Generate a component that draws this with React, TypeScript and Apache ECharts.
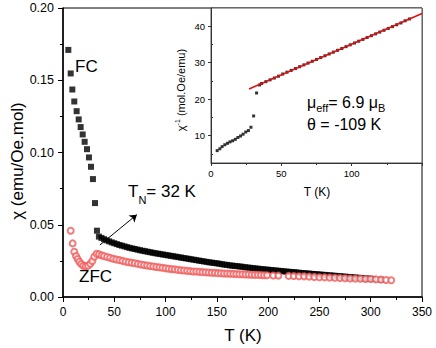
import React, { useEffect, useRef } from 'react';
import * as echarts from 'echarts';

const FONT = "'Liberation Sans', Arial, sans-serif";

// Main panel: FC (field cooled), chi in emu/Oe.mol vs T (K)
const fcLow: number[][] = [
  [5.2, 0.171], [7.5, 0.1547], [9.1, 0.1436], [11, 0.1353], [13.3, 0.1286], [15.3, 0.1229],
  [17.2, 0.1176], [19.2, 0.1125], [21.1, 0.1074], [23.4, 0.1023], [25.3, 0.0966], [27.3, 0.0901],
  [29.2, 0.0816], [31.2, 0.065], [33.1, 0.0459],
];
const fcHigh: number[][] = [
  [35, 0.0418], [37.5, 0.0409], [40, 0.04], [42.5, 0.0392], [45, 0.0385], [47.5, 0.0378],
  [50, 0.0372], [52.5, 0.0366], [55, 0.036], [57.5, 0.0355], [60, 0.035], [62.5, 0.0345],
  [65, 0.034], [67.5, 0.0336], [70, 0.0332], [72.5, 0.0328], [75, 0.0324], [77.5, 0.032],
  [80, 0.0317], [82.5, 0.0313], [85, 0.031], [87.5, 0.0306], [90, 0.0303], [92.5, 0.03],
  [95, 0.0297], [97.5, 0.0294], [100, 0.0291], [102.5, 0.0288], [105, 0.0285], [107.5, 0.0282],
  [110, 0.0279], [112.5, 0.0276], [115, 0.0273], [117.5, 0.027], [120, 0.0267], [122.5, 0.0264],
  [125, 0.0261], [127.5, 0.0258], [130, 0.0255], [132.5, 0.0252], [135, 0.0249], [137.5, 0.0246],
  [140, 0.0243], [142.5, 0.024], [145, 0.0238], [147.5, 0.0235], [150, 0.0233], [152.5, 0.023],
  [155, 0.0227], [157.5, 0.0224], [160, 0.0222], [162.5, 0.0219], [165, 0.0217], [167.5, 0.0215],
  [170, 0.0213], [172.5, 0.0211], [175, 0.0209], [177.5, 0.0206], [180, 0.0204], [182.5, 0.0202],
  [185, 0.02], [187.5, 0.0198], [190, 0.0196], [192.5, 0.0194], [195, 0.0192], [197.5, 0.019],
  [200, 0.0189], [202.5, 0.0187], [205, 0.0185], [207.5, 0.0183], [210, 0.0182], [212.5, 0.018],
  [215, 0.0178], [217.5, 0.0176], [220, 0.0175], [222.5, 0.0173], [225, 0.0172], [227.5, 0.017],
  [230, 0.0168], [232.5, 0.0166], [235, 0.0165], [237.5, 0.0163], [240, 0.0162], [242.5, 0.016],
  [245, 0.0159], [247.5, 0.0157], [250, 0.0156], [252.5, 0.0154], [255, 0.0153], [257.5, 0.0151],
  [260, 0.015], [262.5, 0.0148], [265, 0.0147], [267.5, 0.0145], [270, 0.0144], [272.5, 0.0142],
  [275, 0.0141], [277.5, 0.0139], [280, 0.0138], [282.5, 0.0136], [285, 0.0135], [287.5, 0.0133],
  [290, 0.0132], [292.5, 0.013], [295, 0.0129], [297.5, 0.0127], [300, 0.0126], [302.5, 0.0124],
  [310, 0.012],
];

// Main panel: ZFC (zero field cooled)
const zfcLow: number[][] = [
  [7.5, 0.0459], [9.4, 0.0371], [11, 0.0313], [12.7, 0.0284], [14.3, 0.0263], [15.9, 0.0244],
  [17.8, 0.0228], [19.8, 0.0216], [22.1, 0.0212], [24.4, 0.0216], [26.6, 0.023], [28.6, 0.0249],
  [30.5, 0.0279], [32.8, 0.0299], [35.1, 0.0295], [37.7, 0.0288],
];
const zfcHigh: number[][] = [
  [40, 0.0283], [43, 0.0277], [46, 0.0271], [49, 0.0265], [52, 0.026], [55, 0.0255], [58, 0.025],
  [61, 0.0245], [64, 0.0241], [67, 0.0237], [70, 0.0233], [73, 0.0229], [76, 0.0225], [79, 0.0221],
  [82, 0.0218], [85, 0.0215], [88, 0.0211], [91, 0.0208], [94, 0.0205], [97, 0.0202], [100, 0.0199],
  [103, 0.0196], [106, 0.0193], [109, 0.0191], [112, 0.0188], [115, 0.0185], [118, 0.0183],
  [121, 0.0181], [124, 0.0179], [127, 0.0177], [130, 0.0176], [133, 0.0174], [136, 0.0172],
  [139, 0.0171], [142, 0.0169], [145, 0.0168], [148, 0.0167], [151, 0.0165], [154, 0.0164],
  [157, 0.0163], [160, 0.0162], [163, 0.0161], [166, 0.016], [169, 0.0159], [172, 0.0158],
  [175, 0.0157], [178, 0.0156], [181, 0.0155], [184, 0.0154], [187, 0.0153], [190, 0.0153],
  [193, 0.0152], [196, 0.0151], [199, 0.015], [205, 0.0149], [210, 0.0148], [220, 0.0146],
  [225, 0.0145], [230, 0.0144], [235, 0.0143], [240, 0.0141], [245, 0.0139], [250, 0.0137],
  [255, 0.0136], [260, 0.0134], [265, 0.0133], [270, 0.0131], [275, 0.013], [280, 0.0128],
  [285, 0.0127], [290, 0.0126], [295, 0.0125], [300, 0.0124], [305, 0.0122], [310, 0.012],
  [315, 0.0118], [320, 0.0116],
];

// Inset: 1/chi (mol.Oe/emu) vs T (K)
const invChiLow: number[][] = [
  [4.4, 5.9], [6.3, 6.4], [7.9, 7.0], [9.8, 7.5], [11.7, 7.9], [13.5, 8.3], [15.4, 8.6],
  [17.3, 9.0], [19.1, 9.5], [21, 9.9], [22.8, 10.4], [24.7, 11.0], [26.6, 11.4], [28.4, 12.3],
  [30.3, 15.4], [32.4, 21.7], [34.5, 23.9],
];
const invChiHigh: number[][] = [
  [36, 24.3], [39, 24.8], [42, 25.3], [45, 25.8], [48, 26.3], [51, 26.9], [54, 27.4], [57, 27.9],
  [60, 28.4], [63, 28.9], [66, 29.4], [69, 29.9], [72, 30.4], [75, 30.9], [78, 31.4], [81, 31.9],
  [84, 32.4], [87, 32.9], [90, 33.4], [93, 33.9], [96, 34.4], [99, 34.9], [102, 35.4], [105, 35.9],
  [108, 36.4], [111, 36.9], [114, 37.4], [117, 37.9], [120, 38.4], [123, 38.9], [126, 39.4],
  [129, 39.9], [132, 40.4], [135, 40.9], [138, 41.5], [141, 42.0],
];
// Curie-Weiss fit line (red)
const cwFit: number[][] = [[27, 22.8], [150, 43.5]];

const insetXLabels = [0, 50, 100];
const insetYLabels = [10, 20, 30, 40];
const insetYMinor = [5, 15, 25, 35];

export default function App() {
  const ref = useRef<HTMLDivElement>(null);

  useEffect(() => {
    const chart = echarts.init(ref.current as HTMLDivElement, null, { renderer: 'svg' });
    const tickLabel = (size: number, margin: number) => ({
      color: '#000',
      fontSize: size,
      fontFamily: FONT,
      margin,
    });
    chart.setOption({
      animation: false,
      backgroundColor: '#fff',
      grid: [
        { left: 63, right: 14, top: 8, bottom: 51, show: true, borderColor: '#000', borderWidth: 1, backgroundColor: 'transparent' },
        { left: 211, right: 14, top: 8, bottom: 185, show: true, borderColor: '#555', borderWidth: 1, backgroundColor: '#fff', z: 5 },
      ],
      xAxis: [
        {
          gridIndex: 0, type: 'value', min: 0, max: 350, interval: 50,
          axisLine: { onZero: false, lineStyle: { color: '#000', width: 1.5 } },
          axisTick: { length: 5, lineStyle: { color: '#000', width: 1 } },
          minorTick: { show: true, splitNumber: 2, length: 3, lineStyle: { color: '#000', width: 1 } },
          splitLine: { show: false }, minorSplitLine: { show: false },
          axisLabel: tickLabel(12, 9),
        },
        {
          gridIndex: 1, type: 'value', min: 0, max: 150, interval: 50, z: 6,
          axisLine: { onZero: false, lineStyle: { color: '#333', width: 1 } },
          axisTick: { length: 3, lineStyle: { color: '#333', width: 1 } },
          minorTick: { show: true, splitNumber: 2, length: 2, lineStyle: { color: '#333', width: 1 } },
          splitLine: { show: false }, minorSplitLine: { show: false },
          axisLabel: { ...tickLabel(9.5, 5), customValues: insetXLabels },
        },
      ],
      yAxis: [
        {
          gridIndex: 0, type: 'value', min: 0, max: 0.2, interval: 0.05,
          axisLine: { onZero: false, lineStyle: { color: '#000', width: 1.5 } },
          axisTick: { length: 5, lineStyle: { color: '#000', width: 1 } },
          minorTick: { show: true, splitNumber: 2, length: 3, lineStyle: { color: '#000', width: 1 } },
          splitLine: { show: false }, minorSplitLine: { show: false },
          axisLabel: { ...tickLabel(12.5, 9), formatter: (v: number) => v.toFixed(2) },
        },
        {
          gridIndex: 1, type: 'value', min: 2.5, max: 45, z: 6,
          axisLine: { onZero: false, lineStyle: { color: '#333', width: 1 } },
          axisTick: { length: 3, customValues: insetYLabels, lineStyle: { color: '#333', width: 1 } },
          splitLine: { show: false },
          axisLabel: { ...tickLabel(9.5, 6), customValues: insetYLabels },
        },
        {
          gridIndex: 1, type: 'value', min: 2.5, max: 45, z: 6,
          axisLine: { show: false },
          axisTick: { length: 2, customValues: insetYMinor, lineStyle: { color: '#333', width: 1 } },
          splitLine: { show: false },
          axisLabel: { show: false },
        },
      ],
      series: [
        {
          type: 'scatter', xAxisIndex: 0, yAxisIndex: 0, data: [...fcLow, ...fcHigh],
          symbol: 'rect', symbolSize: 6, itemStyle: { color: '#000' },
          markLine: {
            silent: true, symbol: ['none', 'arrow'], symbolSize: 7,
            lineStyle: { color: '#000', width: 1, type: 'solid' },
            label: { show: false },
            data: [[{ coord: [36, 0.036] }, { coord: [72, 0.057] }]],
          },
        },
        {
          type: 'scatter', xAxisIndex: 0, yAxisIndex: 0, data: [...zfcLow, ...zfcHigh],
          symbol: 'emptyCircle', symbolSize: 6,
          itemStyle: { color: '#f05a5a', borderColor: '#f05a5a', borderWidth: 0.9 },
        },
        {
          type: 'scatter', xAxisIndex: 1, yAxisIndex: 1, data: [...invChiLow, ...invChiHigh],
          symbol: 'rect', symbolSize: 3, itemStyle: { color: '#000' }, z: 7,
        },
        {
          type: 'line', xAxisIndex: 1, yAxisIndex: 1, data: cwFit, symbol: 'none', showSymbol: false,
          lineStyle: { color: '#e01010', width: 1.5 }, z: 8,
        },
      ],
      graphic: [
        {
          type: 'text', x: 17, y: 161, rotation: Math.PI / 2, z: 100,
          style: { text: 'χ (emu/Oe.mol)', fontSize: 17, fontFamily: FONT, fill: '#000', align: 'center', verticalAlign: 'middle', textAlign: 'center', textVerticalAlign: 'middle' },
        },
        {
          type: 'text', x: 243, y: 335, z: 100,
          style: { text: 'T (K)', fontSize: 17, fontFamily: FONT, fill: '#000', align: 'center', verticalAlign: 'middle', textAlign: 'center', textVerticalAlign: 'middle' },
        },
        {
          type: 'text', x: 75, y: 66, z: 100,
          style: { text: 'FC', fontSize: 17, fontFamily: FONT, fill: '#000', align: 'left', verticalAlign: 'middle', textAlign: 'left', textVerticalAlign: 'middle' },
        },
        {
          type: 'text', x: 79, y: 276, z: 100,
          style: { text: 'ZFC', fontSize: 17, fontFamily: FONT, fill: '#000', align: 'left', verticalAlign: 'middle', textAlign: 'left', textVerticalAlign: 'middle' },
        },
        {
          type: 'text', x: 128, y: 191, z: 100,
          style: {
            text: '{m|T}{s|N}{m|= 32 K}', align: 'left', verticalAlign: 'middle', textAlign: 'left', textVerticalAlign: 'middle',
            rich: {
              m: { fontSize: 17, fontFamily: FONT, fill: '#000', color: '#000' },
              s: { fontSize: 11, fontFamily: FONT, fill: '#000', color: '#000', padding: [18, 0, 0, 0] },
            },
          },
        },
        {
          type: 'text', x: 317, y: 192, z: 100,
          style: { text: 'T (K)', fontSize: 12, fontFamily: FONT, fill: '#000', align: 'center', verticalAlign: 'middle', textAlign: 'center', textVerticalAlign: 'middle' },
        },
        {
          type: 'text', x: 181, y: 90, rotation: Math.PI / 2, z: 100,
          style: {
            text: '{m|χ}{p|-1}{m| (mol.Oe/emu)}', align: 'center', verticalAlign: 'middle', textAlign: 'center', textVerticalAlign: 'middle',
            rich: {
              m: { fontSize: 11, fontFamily: FONT, fill: '#000', color: '#000' },
              p: { fontSize: 7, fontFamily: FONT, fill: '#000', color: '#000', padding: [0, 0, 8, 0] },
            },
          },
        },
        {
          type: 'text', x: 307, y: 102, z: 100,
          style: {
            text: '{m|μ}{s|eff}{m|= 6.9 μ}{s|B}', align: 'left', verticalAlign: 'middle', textAlign: 'left', textVerticalAlign: 'middle',
            rich: {
              m: { fontSize: 16, fontFamily: FONT, fill: '#000', color: '#000' },
              s: { fontSize: 11, fontFamily: FONT, fill: '#000', color: '#000', padding: [12, 0, 0, 0] },
            },
          },
        },
        {
          type: 'text', x: 307, y: 124, z: 100,
          style: { text: 'θ = -109 K', fontSize: 16, fontFamily: FONT, fill: '#000', align: 'left', verticalAlign: 'middle', textAlign: 'left', textVerticalAlign: 'middle' },
        },
      ],
    });
    return () => chart.dispose();
  }, []);

  return (
    <div
      ref={ref}
      style={{ position: 'fixed', left: 0, top: 0, width: 436, height: 348, background: '#fff' }}
    />
  );
}
